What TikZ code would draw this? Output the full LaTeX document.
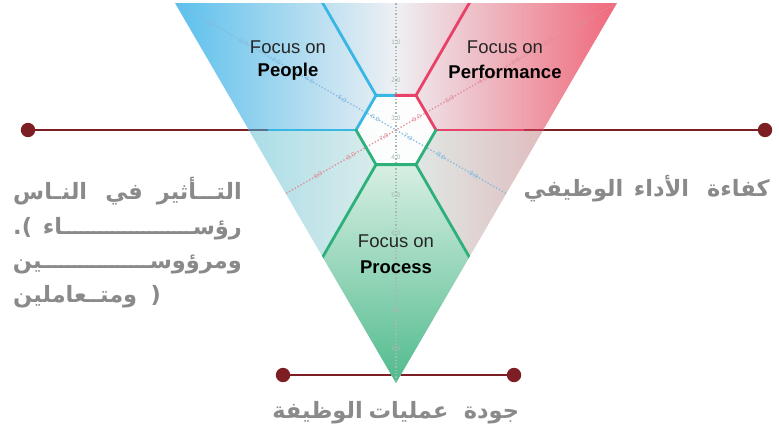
\documentclass[tikz,border=0pt]{standalone}
\usepackage{fontspec}
\setmainfont{Liberation Sans}
\newfontfamily\arabicfont[Script=Arabic]{DejaVu Sans}
\newfontfamily\punctfont{DejaVu Sans}
\usetikzlibrary{calc}
\definecolor{cblue}{RGB}{56,182,230}
\definecolor{cred}{RGB}{232,66,104}
\definecolor{cgreen}{RGB}{45,176,122}
\definecolor{cmaroon}{RGB}{125,29,36}
\definecolor{ctext}{RGB}{138,138,138}
\definecolor{fblue}{RGB}{92,192,236}
\definecolor{fmid}{RGB}{238,240,243}
\definecolor{fred}{RGB}{239,104,122}
\definecolor{fgreentop}{RGB}{216,239,228}
\definecolor{fgreenbot}{RGB}{80,187,140}
\definecolor{cdotgray}{RGB}{165,185,178}
\definecolor{cdotblue}{RGB}{130,185,225}
\definecolor{cdotred}{RGB}{225,140,152}
% a word stretched by kashida to a given width: #2 = end of the word (drawn left), #3 = start of the word (drawn right)
\newcommand{\kashword}[3]{\hbox to #1{^^^^200d#2\xleaders\hbox{\kern-0.8pt ـ\kern-0.8pt}\hfill#3^^^^200d}}
\tikzset{
  maroonline/.style={draw=cmaroon, line width=2.8pt},
  enddot/.style={fill=cmaroon},
  bluebar/.style={draw=cblue, line width=2.8pt},
  redbar/.style={draw=cred, line width=2.8pt},
  greenbar/.style={draw=cgreen, line width=2.8pt},
  axisdot/.style={dotted, line width=1.3pt},
  ticklab/.style={font=\fontsize{6.5}{7}\selectfont, inner sep=0pt},
  focus/.style={font=\fontsize{18.5}{20}\selectfont, inner sep=0pt, text=black!85},
  focusb/.style={font=\fontsize{18.5}{20}\selectfont\bfseries, inner sep=0pt, text=black},
  artext/.style={font=\arabicfont\bfseries\fontsize{22.5}{26}\selectfont, text=ctext, inner sep=0pt},
  punct/.style={font=\punctfont\bfseries\fontsize{22.5}{26}\selectfont, text=ctext, inner sep=0pt}
}
\begin{document}
\begin{tikzpicture}[x=1pt,y=-1pt]
\useasboundingbox (0,0) rectangle (779,431);
\fill[white] (0,0) rectangle (779,431);
% coordinates
\coordinate (T1) at (175,3);
\coordinate (T2) at (617,3);
\coordinate (T3) at (396,383);
\coordinate (C) at (396,130);
\coordinate (H0) at (436,130);
\coordinate (H1) at (416,95.36);
\coordinate (H2) at (376,95.36);
\coordinate (H3) at (356,130);
\coordinate (H4) at (376,164.64);
\coordinate (H5) at (416,164.64);
\coordinate (Htop) at (396,95.36);
\coordinate (L1) at (28,130);
\coordinate (L2) at (268,130);
\coordinate (R1) at (524,130);
\coordinate (R2) at (765,130);
\coordinate (B1) at (283,375);
\coordinate (B2) at (514,375);
% maroon connectors
\draw[maroonline] (L1) -- (L2);
\draw[maroonline] (R1) -- (R2);
\draw[maroonline] (B1) -- (B2);
\fill[enddot] (L1) circle (7.2);
\fill[enddot] (R2) circle (7.2);
\fill[enddot] (B1) circle (7.2);
\fill[enddot] (B2) circle (7.2);
% triangle
\begin{scope}
\clip (T1) -- (T2) -- (T3) -- cycle;
\shade[left color=fblue, right color=fred, middle color=fmid] (175,0) rectangle (617,390);
\fill[white, opacity=0.40] (170,130) rectangle (620,390);
\fill[cgreen, opacity=0.10] (170,130) rectangle (620,390);
\shade[top color=fgreentop, bottom color=fgreenbot] (H4) -- (H5) -- ($(H5)+(75,129.9)$) -- (T3) -- ($(H4)+(-75,129.9)$) -- cycle;
\fill[white, opacity=0.92] (H0) -- (H1) -- (H2) -- (H3) -- (H4) -- (H5) -- cycle;
% dotted axes
\draw[axisdot, cdotgray] (396,0) -- (T3);
\draw[axisdot, cdotblue] ($(C)+(-300,-173.2)$) -- ($(C)+(300,173.2)$);
\draw[axisdot, cdotred] ($(C)+(300,-173.2)$) -- ($(C)+(-300,173.2)$);
\foreach \k/\v in {0/1.0,1/2.0,2/3.0,3/4.0,4/5.0,5/6.0,6/7.0,7/8.0,8/9.0}{
  \node[ticklab, text=cdotgray] (vt\k) at (396,{42+38.3*\k}) {\v};
  \node[ticklab, text=cdotblue, rotate=-30] (bt\k) at ($(C)+({(-214+38*\k)*0.866},{(-214+38*\k)*0.5})$) {\v};
  \node[ticklab, text=cdotred, rotate=30] (rt\k) at ($(C)+({(214-38*\k)*0.866},{(-214+38*\k)*0.5})$) {\v};
}
% colored bars
\draw[bluebar] (H2) -- ++(-75,-129.9);
\draw[bluebar] (H3) -- ++(-150,0);
\draw[redbar] (H1) -- ++(75,-129.9);
\draw[redbar] (H0) -- ++(150,0);
\draw[greenbar] (H4) -- ++(-75,129.9);
\draw[greenbar] (H5) -- ++(75,129.9);
\draw[bluebar, line cap=round] (Htop) -- (H2) -- (H3);
\draw[redbar, line cap=round] (Htop) -- (H1) -- (H0);
\draw[greenbar, line cap=round, line join=round] (H3) -- (H4) -- (H5) -- (H0);
\end{scope}
% maroon seen through the triangle
\draw[maroonline, opacity=0.45] (249,130) -- (L2);
\draw[maroonline, opacity=0.45] (R1) -- (543,130);
% labels
\node[focus] (p1) at (288,47) {Focus on};
\node[focusb] (p2) at (288,72) {People};
\node[focus] (f1) at (505,47) {Focus on};
\node[focusb] (f2) at (505,72) {Performance};
\node[focus] (r1) at (396,241) {Focus on};
\node[focusb] (r2) at (396,267) {Process};
% Arabic text, left block (each word placed right to left)
\node[artext, anchor=base east] (a11) at (242,199) {\kashword{85pt}{أثير}{الت}};
\node[artext, anchor=base west] (a13) at (13,199) {\kashword{74pt}{اس}{الن}};
\node[artext, anchor=base east] (a12) at ($(a11.base west)+(-15,0)$) {\kashword{36pt}{ي}{ف}};
\node[artext, anchor=base east] (a21) at (242,234) {\kashword{199pt}{اء}{رؤس}};
\node[punct, anchor=base west] (a22) at (13,234) {.(};
\node[artext, anchor=base east] (a31) at (242,268) {\kashword{229pt}{ين}{ومرؤوس}};
\node[artext, anchor=base west] (a41) at (13,302) {\kashword{124pt}{عاملين}{ومت}};
\node[punct, anchor=base west] (a42) at ($(a41.base east)+(13,0)$) {)};
% right text
\node[artext, anchor=base] (k3) at (573.5,196) {الوظيفي};
\node[artext, anchor=base] (k2) at (661.5,196) {الأداء};
\node[artext, anchor=base west] (k1) at (707,196) {كفاءة};
% bottom text
\node[artext, anchor=base] (j1) at (491.5,418) {جودة};
\node[artext, anchor=base] (j2) at (408.5,418) {عمليات};
\node[artext, anchor=base] (j3) at (317.5,418) {الوظيفة};
\end{tikzpicture}
\end{document}
